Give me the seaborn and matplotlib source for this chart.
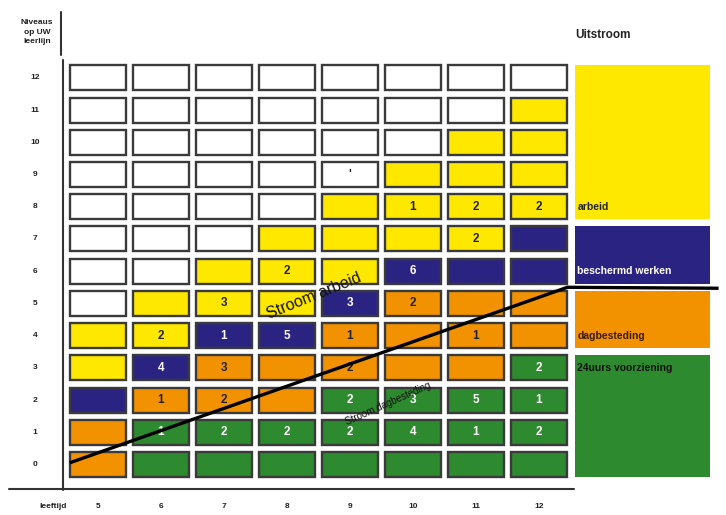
import numpy as np
import pandas as pd
import matplotlib
matplotlib.use("Agg")
import matplotlib.pyplot as plt
from matplotlib.colors import ListedColormap
from matplotlib.patches import Rectangle
import seaborn as sns

# Leeftijden (kolommen) en niveaus op de leerlijn (rijen, van boven naar onder)
ages = [5, 6, 7, 8, 9, 10, 11, 12]
levels = [12, 11, 10, 9, 8, 7, 6, 5, 4, 3, 2, 1, 0]

# W = leeg, Y = arbeid, N = beschermd werken, O = dagbesteding, G = 24uurs voorziening
cell_colours = [
    "WWWWWWWW",
    "WWWWWWWY",
    "WWWWWWYY",
    "WWWWWYYY",
    "WWWWYYYY",
    "WWWYYYYN",
    "WWYYYNNN",
    "WYYYNOOO",
    "YYNNOOOO",
    "YNOOOOOG",
    "NOOOGGGG",
    "OGGGGGGG",
    "OGGGGGGG",
]

# aantal leerlingen per cel
cell_counts = [
    ["", "", "", "", "", "", "", ""],
    ["", "", "", "", "", "", "", ""],
    ["", "", "", "", "", "", "", ""],
    ["", "", "", "", "'", "", "", ""],
    ["", "", "", "", "", "1", "2", "2"],
    ["", "", "", "", "", "", "2", ""],
    ["", "", "", "2", "", "6", "", ""],
    ["", "", "3", "", "3", "2", "", ""],
    ["", "2", "1", "5", "1", "", "1", ""],
    ["", "4", "3", "", "2", "", "", "2"],
    ["", "1", "2", "", "2", "3", "5", "1"],
    ["", "1", "2", "2", "2", "4", "1", "2"],
    ["", "", "", "", "", "", "", ""],
]

palette = {"W": "#FFFFFF", "Y": "#FFE800", "N": "#2B2382", "O": "#F39200", "G": "#2E8A2E"}
codes = {k: i for i, k in enumerate(palette)}

# uitstroom-banden rechts
band_labels = ["arbeid", "beschermd werken", "dagbesteding", "24uurs voorziening"]
band_keys = ["Y", "N", "O", "G"]
band_top = [12, 7, 5, 3]
band_bottom = [8, 6, 4, 0]
band_label_level = [8, 6, 4, 3]
band_label_colour = ["#222222", "white", "#3a1a00", "#111111"]

# stroomlijn (leeftijd, niveau)
stream_age = [4.55, 12.45, 14.85]
stream_level = [0.05, 5.5, 5.47]


def hx(age):
    return age - ages[0] + 0.5


def hy(level):
    return levels[0] - level + 0.5


sns.set_theme(style="white")
plt.rcParams["font.family"] = ["Liberation Sans", "DejaVu Sans"]

fig = plt.figure(figsize=(7.26, 5.15), dpi=100)
ax = fig.add_axes([0, 0, 1, 1])

grid = pd.DataFrame([[codes[c] for c in row] for row in cell_colours],
                    index=levels, columns=ages)
sns.heatmap(grid, ax=ax, cmap=ListedColormap(list(palette.values())),
            vmin=-0.5, vmax=len(palette) - 0.5, cbar=False,
            annot=np.array(cell_counts), fmt="",
            linewidths=5, linecolor="white",
            annot_kws=dict(fontsize=8.5, fontweight="bold"))

# tekstkleur: wit op donkere cellen
flat = "".join(cell_colours)
for txt, key in zip(ax.texts, flat):
    txt.set_color("white" if key in "NG" else "#222222")

# celranden
for i in range(len(levels)):
    for j in range(len(ages)):
        ax.add_patch(Rectangle((j + 0.056, i + 0.112), 0.888, 0.776, fill=False,
                               edgecolor="#3a3a3a", lw=1.7, zorder=3))

# uitstroom-banden
x0, x1 = hx(12.57), hx(14.71)
for lab, key, top, bot, lvl, col in zip(band_labels, band_keys, band_top,
                                        band_bottom, band_label_level, band_label_colour):
    y0 = hy(top) - 0.5 + 0.112
    y1 = hy(bot) + 0.5 - 0.112
    ax.add_patch(Rectangle((x0, y0), x1 - x0, y1 - y0, color=palette[key], lw=0, zorder=2))
    ax.text(x0 + 0.04, hy(lvl), lab, color=col, fontsize=7.5, fontweight="bold",
            ha="left", va="center", zorder=5)

# stroomlijn
ax.plot([hx(a) for a in stream_age], [hy(l) for l in stream_level],
        color="black", lw=2.4, zorder=6, solid_capstyle="butt")
ax.text(hx(8.42), hy(5.22), "Stroom arbeid", rotation=22, fontsize=11.5,
        ha="center", va="center", zorder=7, color="#111111")
ax.text(hx(9.6), hy(1.9), "Stroom dagbesteding", rotation=24, fontsize=7,
        ha="center", va="center", zorder=7, color="#111111")

# assen
line_kw = dict(color="#333333", lw=1.5, zorder=4)
ax.plot([-0.056, -0.056], [-0.06, 13.3], **line_kw)
ax.plot([-0.91, 8.06], [13.26, 13.26], **line_kw)
ax.plot([-0.08, -0.08], [-1.55, -0.21], **line_kw)

for lvl in levels:
    ax.text(hx(4.0), hy(lvl), str(lvl), fontsize=6, fontweight="bold",
            ha="center", va="center", color="#222222")
for age in ages:
    ax.text(hx(age), 13.82, str(age), fontsize=6, fontweight="bold",
            ha="center", va="center", color="#222222")
ax.text(-0.21, 13.82, "leeftijd", fontsize=6, fontweight="bold",
        ha="center", va="center", color="#222222")
ax.text(-0.47, -0.92, "Niveaus\nop UW\nleerlijn", fontsize=6, fontweight="bold",
        ha="center", va="center", linespacing=1.5, color="#222222")
ax.text(8.07, -0.84, "Uitstroom", fontsize=8.5, fontweight="bold",
        ha="left", va="center", color="#222222")

ax.set_xlim(-1.056, 10.468)
ax.set_ylim(14.07, -1.92)
ax.set_axis_off()

fig.savefig("out.png", dpi=100, facecolor="white")
